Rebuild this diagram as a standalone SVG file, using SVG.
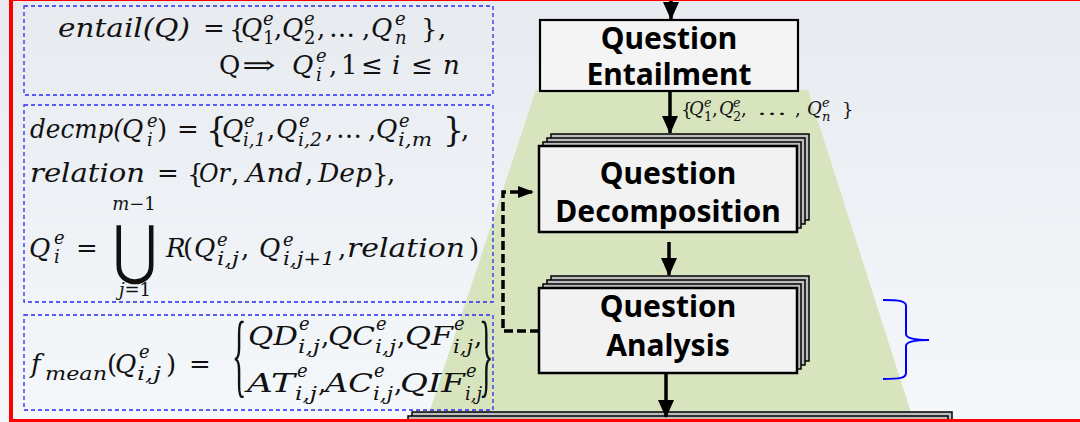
<svg xmlns="http://www.w3.org/2000/svg" width="1080" height="422" viewBox="0 0 1080 422">
<defs>
<linearGradient id="bgg" x1="0" y1="0" x2="0" y2="1">
<stop offset="0" stop-color="#e7eaef"/>
<stop offset="1" stop-color="#f5f8fb"/>
</linearGradient>
<marker id="ah" viewBox="0 0 18 16" refX="17" refY="8" markerWidth="18" markerHeight="16" markerUnits="userSpaceOnUse" orient="auto">
<path d="M0,0 L18,8 L0,16 z" fill="#000"/>
</marker>
<marker id="ahs" viewBox="0 0 16 12" refX="15" refY="6" markerWidth="16" markerHeight="12" markerUnits="userSpaceOnUse" orient="auto">
<path d="M0,0 L16,6 L0,12 z" fill="#000"/>
</marker>
<style>
.fbox{fill:none;stroke:#2a2af0;stroke-width:1.3;stroke-dasharray:4 3}
.m{font-family:"DejaVu Serif","Liberation Serif",serif;font-style:italic;font-size:26px;fill:#111}
.u{font-style:normal}
.s{font-size:18px}
.back{fill:#bdbdbd;stroke:#000;stroke-width:1.5}
.front{fill:#f2f2f2;stroke:#000;stroke-width:2.5}
.lbl{font-family:"Noto Sans","Liberation Sans",sans-serif;font-weight:bold;font-size:30px;fill:#000;text-anchor:middle}
.arr{stroke:#000;stroke-width:3.5;fill:none;marker-end:url(#ah)}
.dash{stroke:#000;stroke-width:3.5;fill:none;stroke-dasharray:9 4;marker-end:url(#ahs)}
.lb{font-family:"DejaVu Serif","Liberation Serif",serif;font-style:italic;font-size:18px;fill:#111}
.ls{font-size:13px}
</style>
</defs>
<rect id="background" x="0" y="0" width="1080" height="422" fill="url(#bgg)"/>
<polygon id="trapezoid" points="536,90 808,90 914,422 426,422" fill="#d7e4bd"/>

<g id="f-entail">
<rect class="fbox" x="24" y="6" width="469" height="89"/>
<text class="m">
<tspan x="58" y="37" textLength="132" lengthAdjust="spacingAndGlyphs">entail(Q)</tspan>
<tspan class="u" x="203" y="37">=</tspan>
<tspan class="u" x="229" y="38">{</tspan>
<tspan x="241" y="37">Q</tspan><tspan class="s" x="263" y="25">e</tspan><tspan class="s u" x="263" y="44">1</tspan>
<tspan class="u" x="274" y="37">,</tspan>
<tspan x="282" y="37">Q</tspan><tspan class="s" x="304" y="25">e</tspan><tspan class="s u" x="304" y="44">2</tspan>
<tspan class="u" x="317" y="37">,</tspan>
<tspan class="u" x="329" y="37">…</tspan>
<tspan class="u" x="362" y="37">,</tspan>
<tspan x="371" y="37">Q</tspan><tspan class="s" x="395" y="25">e</tspan><tspan class="s" x="395" y="44">n</tspan>
<tspan class="u" x="421" y="38">}</tspan>
<tspan class="u" x="438" y="37">,</tspan>
</text>
<text class="m">
<tspan class="u" x="219" y="74">Q</tspan>
<tspan class="u" x="242" y="74" textLength="34" lengthAdjust="spacingAndGlyphs">⇒</tspan>
<tspan x="292" y="74">Q</tspan><tspan class="s" x="316" y="62">e</tspan><tspan class="s" x="316" y="81">i</tspan>
<tspan class="u" x="329" y="74">,</tspan>
<tspan class="u" x="341" y="74">1</tspan>
<tspan class="u" x="361" y="74">≤</tspan>
<tspan x="392" y="74">i</tspan>
<tspan class="u" x="411" y="74">≤</tspan>
<tspan x="443" y="74">n</tspan>
</text>
</g>

<g id="f-decmp">
<rect class="fbox" x="24" y="105" width="469" height="197"/>
<text class="m">
<tspan x="30" y="138" textLength="93" lengthAdjust="spacingAndGlyphs">decmp(</tspan>
<tspan x="122" y="138">Q</tspan><tspan class="s" x="147" y="127">e</tspan><tspan class="s" x="147" y="146">i</tspan>
<tspan class="u" x="157" y="138">)</tspan>
<tspan class="u" x="177" y="138">=</tspan>
<tspan class="u" x="206" y="141" font-size="33">{</tspan>
<tspan x="222" y="138">Q</tspan><tspan class="s" x="244" y="127">e</tspan><tspan class="s" x="243" y="146" textLength="23" lengthAdjust="spacingAndGlyphs">i,1</tspan>
<tspan class="u" x="267" y="138">,</tspan>
<tspan x="276" y="138">Q</tspan><tspan class="s" x="299" y="127">e</tspan><tspan class="s" x="298" y="146" textLength="24" lengthAdjust="spacingAndGlyphs">i,2</tspan>
<tspan class="u" x="325" y="138">,</tspan>
<tspan class="u" x="336" y="138">…</tspan>
<tspan class="u" x="368" y="138">,</tspan>
<tspan x="376" y="138">Q</tspan><tspan class="s" x="399" y="127">e</tspan><tspan class="s" x="398" y="146" textLength="34" lengthAdjust="spacingAndGlyphs">i,m</tspan>
<tspan class="u" x="443" y="141" font-size="33">}</tspan>
<tspan class="u" x="461" y="138">,</tspan>
</text>
<text class="m">
<tspan x="30" y="182" textLength="115" lengthAdjust="spacingAndGlyphs">relation</tspan>
<tspan class="u" x="157" y="182">=</tspan>
<tspan class="u" x="187" y="183">{</tspan>
<tspan x="199" y="182" textLength="31" lengthAdjust="spacingAndGlyphs">Or</tspan>
<tspan class="u" x="231" y="182">,</tspan>
<tspan x="246" y="182" textLength="57" lengthAdjust="spacingAndGlyphs">And</tspan>
<tspan class="u" x="305" y="182">,</tspan>
<tspan x="318" y="182" textLength="54" lengthAdjust="spacingAndGlyphs">Dep</tspan>
<tspan class="u" x="372" y="183">}</tspan>
<tspan class="u" x="387" y="182">,</tspan>
</text>
<text class="m">
<tspan x="29" y="257">Q</tspan><tspan class="s" x="54" y="244">e</tspan><tspan class="s" x="54" y="263">i</tspan>
<tspan class="u" x="76" y="257">=</tspan>
</text>
<text class="m s" x="134" y="210" text-anchor="middle">m<tspan class="u">−1</tspan></text>
<text font-family="DejaVu Sans, sans-serif" font-size="60" fill="#111" text-anchor="middle" transform="translate(135,272) scale(0.9,1.08)">⋃</text>
<text class="m s" x="135" y="296" text-anchor="middle">j<tspan class="u">=1</tspan></text>
<text class="m">
<tspan x="166" y="257">R</tspan>
<tspan class="u" x="183" y="257">(</tspan>
<tspan x="194" y="257">Q</tspan><tspan class="s" x="217" y="246">e</tspan><tspan class="s" x="217" y="265" textLength="22" lengthAdjust="spacingAndGlyphs">i,j</tspan>
<tspan class="u" x="241" y="257">,</tspan>
<tspan x="259" y="257">Q</tspan><tspan class="s" x="283" y="246">e</tspan><tspan class="s" x="283" y="265" textLength="52" lengthAdjust="spacingAndGlyphs">i,j+1</tspan>
<tspan class="u" x="338" y="257">,</tspan>
<tspan x="347" y="257" textLength="118" lengthAdjust="spacingAndGlyphs">relation</tspan>
<tspan class="u" x="469" y="257">)</tspan>
</text>
</g>

<g id="f-mean">
<rect class="fbox" x="24" y="315" width="469" height="95"/>
<text class="m">
<tspan x="31" y="373">f</tspan><tspan class="s" x="45" y="380" textLength="62" lengthAdjust="spacingAndGlyphs">mean</tspan>
<tspan class="u" x="107" y="373">(</tspan>
<tspan x="115" y="373">Q</tspan><tspan class="s" x="139" y="358">e</tspan><tspan class="s" x="137" y="380" textLength="24" lengthAdjust="spacingAndGlyphs">i,j</tspan>
<tspan class="u" x="166" y="373">)</tspan>
<tspan class="u" x="189" y="373">=</tspan>
</text>
<text font-family="Liberation Serif, serif" font-size="30" fill="#111" transform="translate(232,386) scale(1,3.1)">{</text>
<text class="m">
<tspan x="248" y="345" textLength="50" lengthAdjust="spacingAndGlyphs">QD</tspan><tspan class="s" x="299" y="330">e</tspan><tspan class="s" x="298" y="353" textLength="22" lengthAdjust="spacingAndGlyphs">i,j</tspan>
<tspan class="u" x="321" y="345">,</tspan>
<tspan x="328" y="345" textLength="47" lengthAdjust="spacingAndGlyphs">QC</tspan><tspan class="s" x="376" y="330">e</tspan><tspan class="s" x="375" y="353" textLength="21" lengthAdjust="spacingAndGlyphs">i,j</tspan>
<tspan class="u" x="397" y="345">,</tspan>
<tspan x="405" y="345" textLength="48" lengthAdjust="spacingAndGlyphs">QF</tspan><tspan class="s" x="454" y="330">e</tspan><tspan class="s" x="453" y="353" textLength="20" lengthAdjust="spacingAndGlyphs">i,j</tspan>
<tspan class="u" x="474" y="345">,</tspan>
</text>
<text class="m">
<tspan x="247" y="392" textLength="48" lengthAdjust="spacingAndGlyphs">AT</tspan><tspan class="s" x="297" y="377">e</tspan><tspan class="s" x="295" y="400" textLength="22" lengthAdjust="spacingAndGlyphs">i,j</tspan>
<tspan class="u" x="318" y="392">,</tspan>
<tspan x="325" y="392" textLength="48" lengthAdjust="spacingAndGlyphs">AC</tspan><tspan class="s" x="374" y="377">e</tspan><tspan class="s" x="373" y="400" textLength="20" lengthAdjust="spacingAndGlyphs">i,j</tspan>
<tspan class="u" x="394" y="392">,</tspan>
<tspan x="400" y="392" textLength="65" lengthAdjust="spacingAndGlyphs">QIF</tspan><tspan class="s" x="466" y="377">e</tspan><tspan class="s" x="465" y="400" textLength="17" lengthAdjust="spacingAndGlyphs">i,j</tspan>
</text>
<text font-family="Liberation Serif, serif" font-size="30" fill="#111" transform="translate(479,386) scale(1,3.1)">}</text>
</g>

<g id="n-entail">
<rect x="540" y="20" width="258" height="71" fill="#f4f4f4" stroke="#000" stroke-width="2.2"/>
<text class="lbl" x="669" y="49">Question</text>
<text class="lbl" x="669" y="85">Entailment</text>
</g>

<g id="n-decomp">
<rect class="back" x="551" y="134" width="258" height="86"/>
<rect class="back" x="547" y="138" width="258" height="86"/>
<rect class="back" x="543" y="142" width="258" height="86"/>
<rect class="front" x="539" y="146" width="258" height="86"/>
<text class="lbl" x="668" y="184">Question</text>
<text class="lbl" x="668" y="222">Decomposition</text>
</g>

<g id="n-analysis">
<rect class="back" x="551" y="276" width="258" height="85"/>
<rect class="back" x="547" y="280" width="258" height="85"/>
<rect class="back" x="543" y="284" width="258" height="85"/>
<rect class="front" x="539" y="288" width="258" height="85"/>
<text class="lbl" x="668" y="317">Question</text>
<text class="lbl" x="668" y="356">Analysis</text>
</g>

<g id="n-bottom">
<rect class="back" x="412" y="412" width="540" height="60"/>
<rect class="back" x="408" y="416" width="540" height="60"/>
<rect class="back" x="404" y="420" width="540" height="60"/>
<rect class="front" x="400" y="424" width="540" height="60"/>
</g>

<g id="connectors">
<line class="arr" x1="671" y1="-10" x2="671" y2="19"/>
<line class="arr" x1="670" y1="91" x2="670" y2="133"/>
<line class="arr" x1="669" y1="242" x2="669" y2="275"/>
<line class="arr" x1="666" y1="373" x2="666" y2="417"/>
<path class="dash" d="M539,331 H503 V192 H533"/>
</g>

<g id="edge-label">
<text class="lb">
<tspan class="u" x="681" y="116">{</tspan>
<tspan x="689" y="115">Q</tspan><tspan class="ls" x="704" y="107">e</tspan><tspan class="ls u" x="704" y="121">1</tspan>
<tspan class="u" x="712" y="115">,</tspan>
<tspan x="719" y="115">Q</tspan><tspan class="ls" x="733" y="107">e</tspan><tspan class="ls u" x="733" y="121">2</tspan>
<tspan class="u" x="741" y="115">,</tspan>
<tspan class="u" x="757" y="115" textLength="30" lengthAdjust="spacingAndGlyphs">…</tspan>
<tspan class="u" x="795" y="115">,</tspan>
<tspan x="807" y="115">Q</tspan><tspan class="ls" x="822" y="107">e</tspan><tspan class="ls" x="822" y="121">n</tspan>
<tspan class="u" x="842" y="116">}</tspan>
</text>
</g>

<path id="bracket" d="M883,300 C900,300 906,301 906,306 L906,334 C906,338 912,340 929,340 C912,340 906,342 906,346 L906,373 C906,378 900,379 883,379" fill="none" stroke="#0000ff" stroke-width="2"/>

<rect id="frame" x="11" y="-1" width="1075" height="422" fill="none" stroke="#ff0000" stroke-width="4"/>
</svg>
